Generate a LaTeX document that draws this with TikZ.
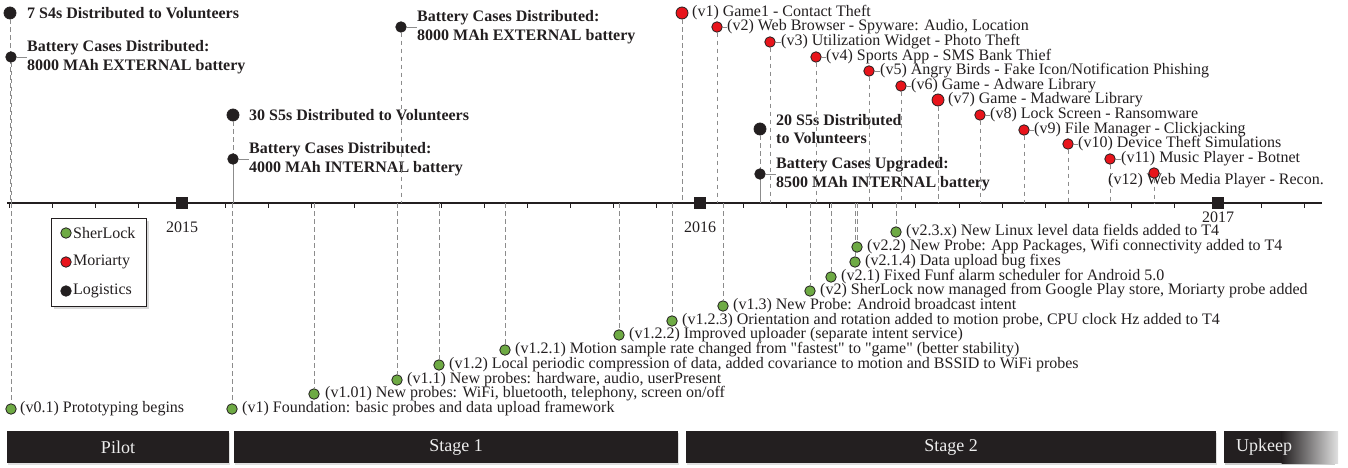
\documentclass[tikz,border=0pt]{standalone}
\usepackage{fontspec}
\setmainfont{Liberation Serif}[Ligatures=TeXOff]
\usetikzlibrary{shadows}
\definecolor{ink}{HTML}{231F20}
\definecolor{mred}{HTML}{E8141B}
\definecolor{sgreen}{RGB}{110,170,68}
\definecolor{dgray}{HTML}{8C8C8C}
\definecolor{bartext}{HTML}{EEEEEE}
\tikzset{
  dot/.style={circle, inner sep=0pt, minimum size=10.5pt, draw=ink, line width=0.8pt},
  reddot/.style={dot, fill=mred},
  greendot/.style={dot, fill=sgreen},
  blackdot/.style={dot, fill=ink},
  bigdot/.style={minimum size=12pt},
  evtext/.style={inner sep=0pt, anchor=west, font=\fontsize{16}{18.5}\selectfont, text=ink, align=left},
  logtext/.style={evtext, font=\fontsize{16}{18.5}\selectfont\bfseries},
  vdash/.style={draw=dgray, dash pattern=on 4.5pt off 3.5pt, line width=0.7pt},
  stub/.style={draw=dgray, line width=0.8pt},
  yearsq/.style={fill=ink, inner sep=0pt, minimum size=12pt},
  yeartext/.style={inner sep=0pt, font=\fontsize{16}{18}\selectfont, text=ink},
  barbox/.style={fill=ink, text=bartext, minimum height=32pt, inner sep=0pt,
    font=\fontsize{18}{20}\selectfont,
    drop shadow={shadow xshift=1pt, shadow yshift=-2pt, opacity=0.25}},
  legbox/.style={draw=ink, fill=white, line width=0.9pt, inner sep=0pt,
    minimum width=95pt, minimum height=88pt,
    drop shadow={shadow xshift=3pt, shadow yshift=-3pt, opacity=0.3}},
}
\newcommand\tev[7]{%
  \node[#4] (#1) at (#2,#3) {};
  \node[#5] (#1-t) at (#6,#3) {#7};
  \coordinate (#1-ax) at (#2,203);
  \draw[vdash] (#1.south) -- (#1-ax);
}
\newcommand\bev[5]{%
  \node[greendot] (#1) at (#2,#3) {};
  \node[evtext] (#1-t) at (#4,#3) {#5};
  \coordinate (#1-ax) at (#2,203);
  \draw[vdash] (#1-ax) -- (#1.north);
}
\begin{document}
\begin{tikzpicture}[x=1pt,y=-1pt]
\useasboundingbox (0,0) rectangle (1348,468);

% axis
\coordinate (axL) at (7,203);
\coordinate (axR) at (1322,203);
\draw[ink, line width=2pt] (axL) -- (axR);
\foreach \i in {0,...,30} \draw[ink, line width=1pt] (9.3+\i*43.17,203) -- ++(0,4.5);
\node[yearsq] (y2015) at (181.7,203) {};
\node[yearsq] (y2016) at (699.7,203) {};
\node[yearsq] (y2017) at (1217.7,203) {};
\node[yeartext] (t2015) at (182,227) {2015};
\node[yeartext] (t2016) at (700,227) {2016};
\node[yeartext] (t2017) at (1218,217) {2017};

% logistics (top)
\tev{L1}{10}{13}{blackdot,bigdot}{logtext}{27}{7 S4s Distributed to Volunteers}
\tev{L2}{11}{57}{blackdot}{logtext}{27}{Battery Cases Distributed:\\8000 MAh EXTERNAL battery}
\tev{L3}{233}{115}{blackdot,bigdot}{logtext}{249}{30 S5s Distributed to Volunteers}
\tev{L4}{233}{159}{blackdot}{logtext}{249}{Battery Cases Distributed:\\4000 MAh INTERNAL battery}
\tev{L5}{401}{27}{blackdot}{logtext}{417}{Battery Cases Distributed:\\8000 MAh EXTERNAL battery}
\tev{L6}{760}{129}{blackdot,bigdot}{logtext}{776}{20 S5s Distributed\\to Volunteers}
\tev{L7}{760}{174}{blackdot}{logtext}{776}{Battery Cases Upgraded:\\8500 MAh INTERNAL battery}

% Moriarty (top)
\tev{m1}{682}{13}{reddot,bigdot}{evtext}{692}{(v1) Game1 - Contact Theft}
\tev{m2}{717}{27}{reddot}{evtext}{727}{(v2) Web Browser - Spyware: Audio, Location}
\tev{m3}{770}{42}{reddot}{evtext}{781}{(v3) Utilization Widget - Photo Theft}
\tev{m4}{816}{57}{reddot}{evtext}{826}{(v4) Sports App - SMS Bank Thief}
\tev{m5}{869}{71}{reddot}{evtext}{880}{(v5) Angry Birds - Fake Icon/Notification Phishing}
\tev{m6}{901}{86}{reddot}{evtext}{911}{(v6) Game - Adware Library}
\tev{m7}{938}{100}{reddot,bigdot}{evtext}{948}{(v7) Game - Madware Library}
\tev{m8}{980}{115}{reddot}{evtext}{990}{(v8) Lock Screen - Ransomware}
\tev{m9}{1024}{130}{reddot}{evtext}{1034}{(v9) File Manager - Clickjacking}
\tev{m10}{1068}{144}{reddot}{evtext}{1078}{(v10) Device Theft Simulations}
\tev{m11}{1110}{159}{reddot}{evtext}{1121}{(v11) Music Player - Botnet}
\node[evtext] (m12-t) at (1108,181) {(v12) Web Media Player - Recon.};
\node[reddot] (m12) at (1154,173) {};
\coordinate (m12-ax) at (1154,203);
\draw[vdash] (m12.south) -- (m12-ax);

\foreach \n in {L2,L4,L5,L7,m2,m3,m4,m5,m6,m8,m9,m10,m11}
  \draw[stub] (\n.east) -- (\n-t.west);

% SherLock (bottom)
\bev{s01}{11}{409}{20}{(v0.1) Prototyping begins}
\bev{s1}{232}{409}{242}{(v1) Foundation: basic probes and data upload framework}
\bev{s101}{314}{394}{325}{(v1.01) New probes: WiFi, bluetooth, telephony, screen on/off}
\bev{s11}{397}{380}{407}{(v1.1) New probes: hardware, audio, userPresent}
\bev{s12}{439}{365}{449}{(v1.2) Local periodic compression of data, added covariance to motion and BSSID to WiFi probes}
\bev{s121}{505}{350}{515}{(v1.2.1) Motion sample rate changed from "fastest" to "game" (better stability)}
\bev{s122}{619}{335}{629}{(v1.2.2) Improved uploader (separate intent service)}
\bev{s123}{672}{321}{682}{(v1.2.3) Orientation and rotation added to motion probe, CPU clock Hz added to T4}
\bev{s13}{723}{306}{733}{(v1.3) New Probe: Android broadcast intent}
\bev{s2}{810}{291}{820}{(v2) SherLock now managed from Google Play store, Moriarty probe added}
\bev{s21}{831}{277}{841}{(v2.1) Fixed Funf alarm scheduler for Android 5.0}
\bev{s214}{855}{262}{865}{(v2.1.4) Data upload bug fixes}
\bev{s22}{857}{247}{867}{(v2.2) New Probe: App Packages, Wifi connectivity added to T4}
\bev{s23}{896}{232}{906}{(v2.3.x) New Linux level data fields added to T4}

% legend
\node[legbox] (legend) at (98.5,262) {};
\node[greendot] (lg1) at (66,233) {};
\node[reddot] (lg2) at (66,262) {};
\node[blackdot] (lg3) at (66,291) {};
\node[evtext] (lg1-t) at (73,233) {SherLock};
\node[evtext] (lg2-t) at (73,262) {Moriarty};
\node[evtext] (lg3-t) at (73,291) {Logistics};

% stage bars
\node[barbox, minimum width=222pt] (pilot) at (118,447) {Pilot};
\node[barbox, minimum width=444pt] (stage1) at (456,447) {Stage 1};
\node[barbox, minimum width=530pt] (stage2) at (951,447) {Stage 2};
\fill[black, opacity=0.2] (1225,433) rectangle (1335,465);
\fill[ink] (1224,431) rectangle (1282,463);
\shade[left color=ink, right color=white!88!black] (1281.5,431) rectangle (1338,463);
\node[anchor=west, inner sep=0pt, text=bartext, font=\fontsize{18}{20}\selectfont] (upkeep) at (1236,447) {Upkeep};
\end{tikzpicture}
\end{document}
